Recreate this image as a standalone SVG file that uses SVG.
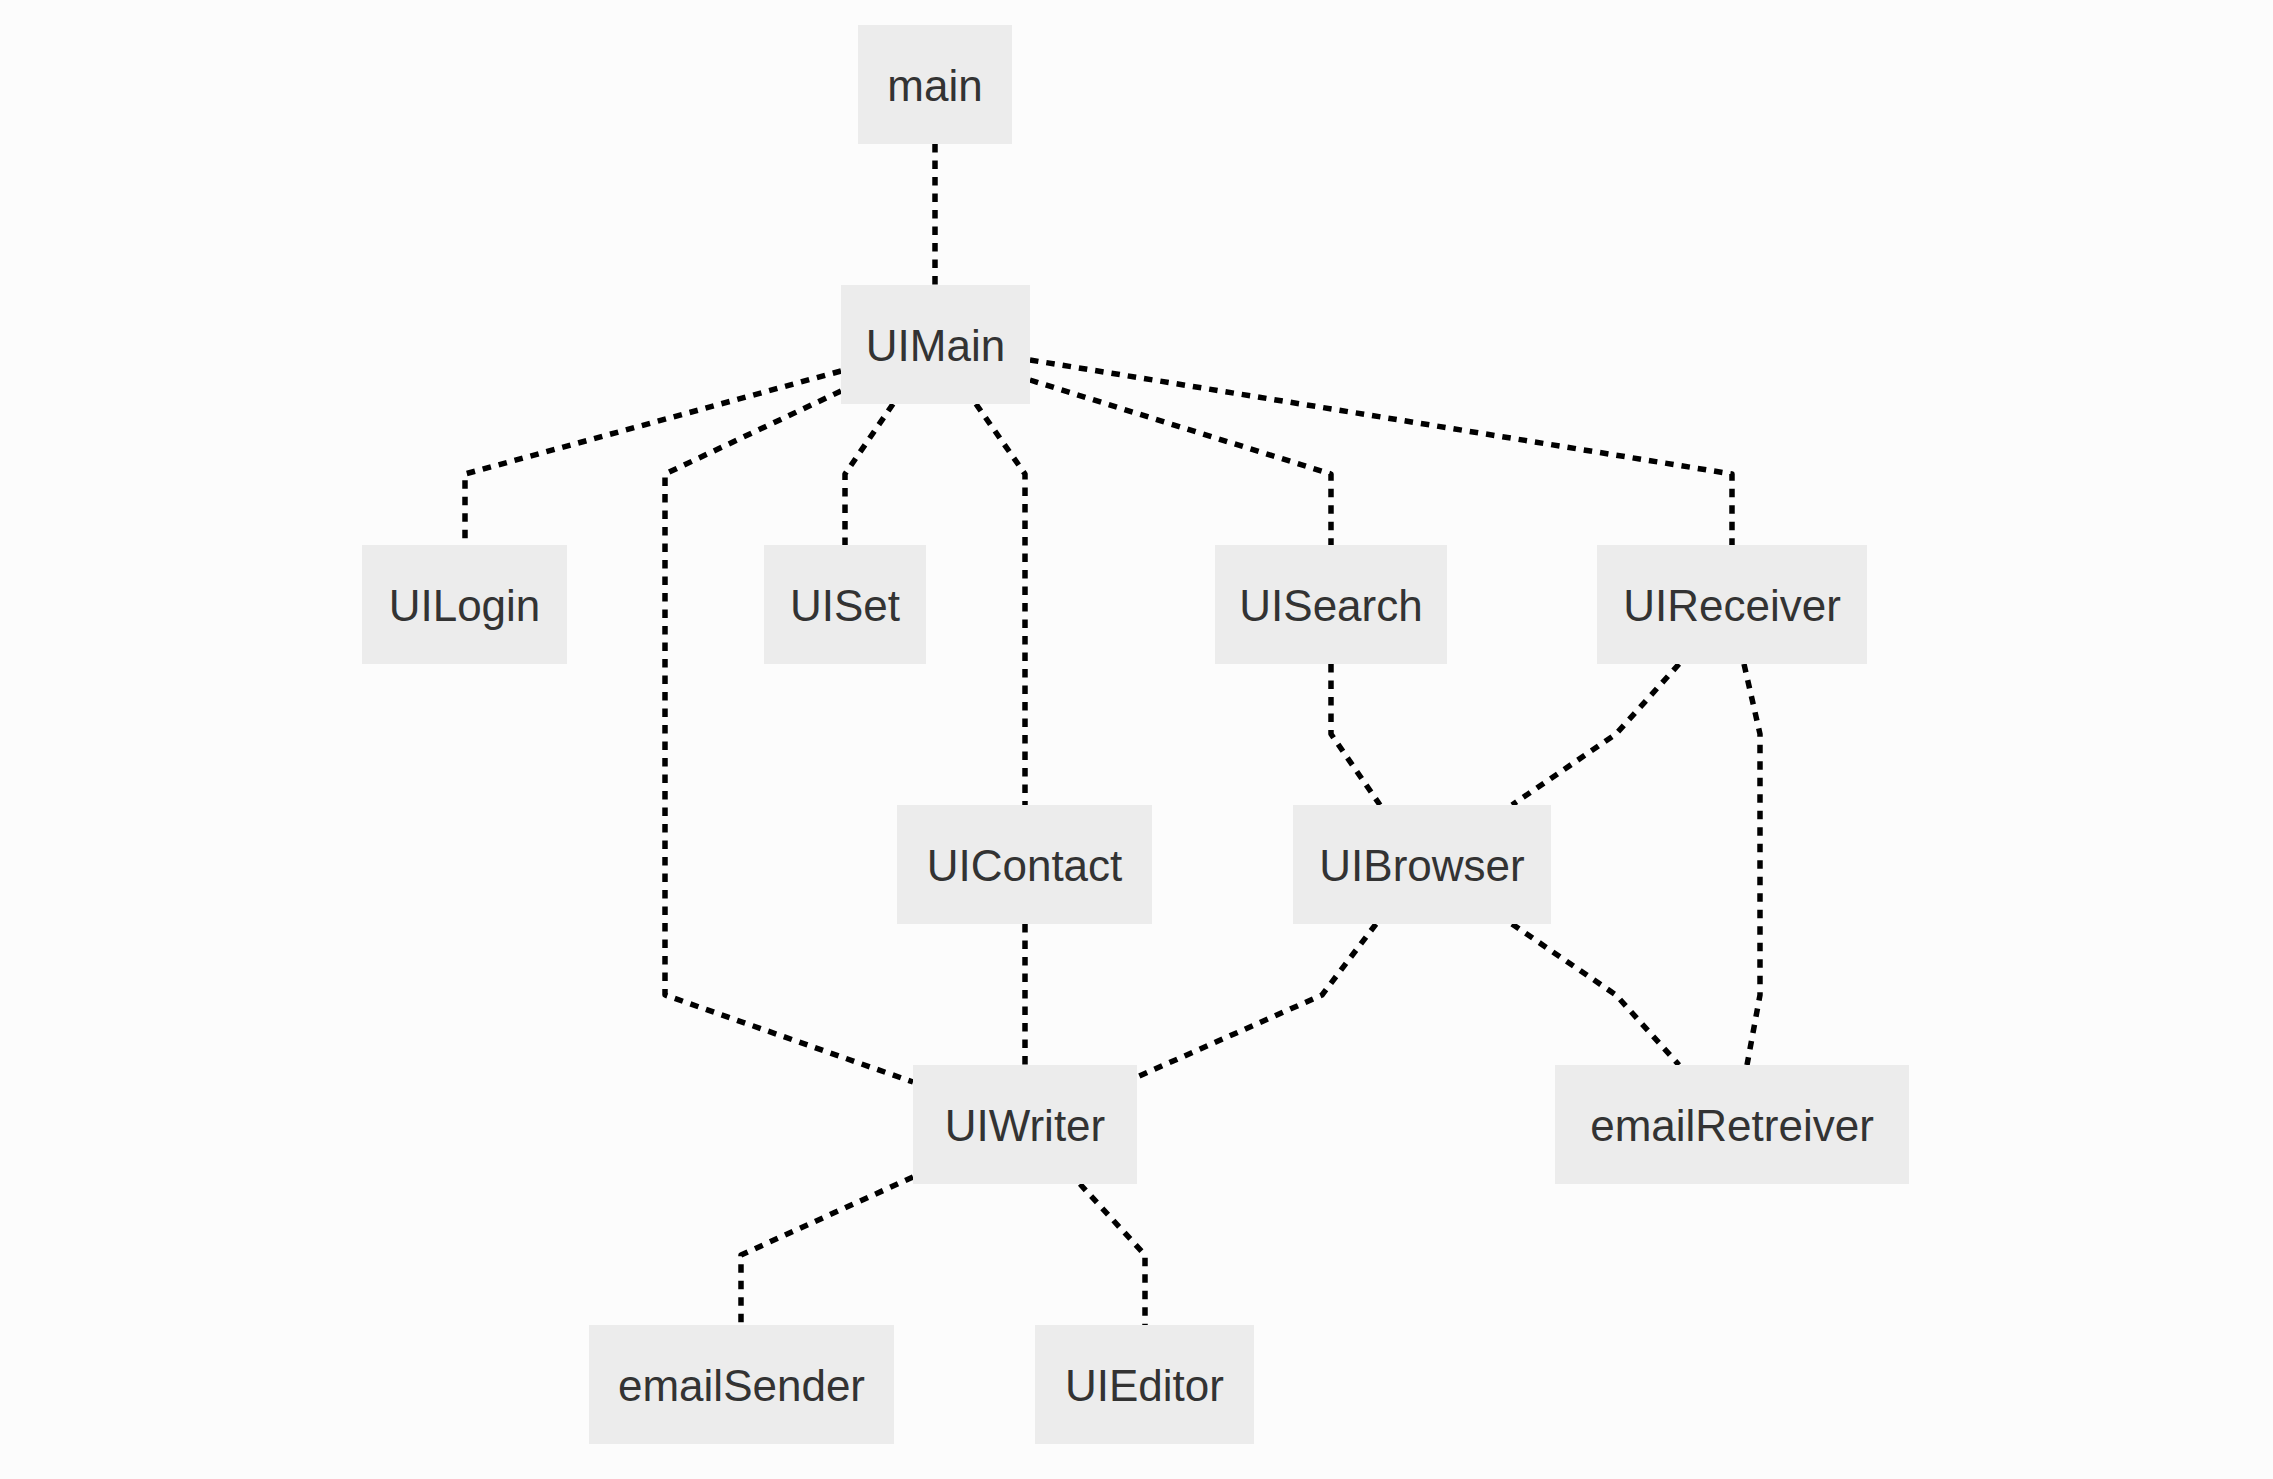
<svg xmlns="http://www.w3.org/2000/svg" width="2273" height="1479" viewBox="0 0 2273 1479">
<style>
.bg{fill:#fcfcfc}
.node rect{fill:#ececec;stroke:none}
.node text{font-family:"Liberation Sans",Arial,sans-serif;font-size:44px;fill:#333333;text-anchor:middle}
.edge{fill:none;stroke:#000000;stroke-width:5.5;stroke-dasharray:8.5 8;stroke-linejoin:round}
</style>
<rect class="bg" x="0" y="0" width="2273" height="1479"/>
<g id="connectors">
<path class="edge" d="M935 144 V285"/>
<path class="edge" d="M841 371 L465 474 V545"/>
<path class="edge" d="M841 391 L665 474 V995 L913 1082"/>
<path class="edge" d="M893 404 L845 474 V545"/>
<path class="edge" d="M976 404 L1025 474 V805"/>
<path class="edge" d="M1030 380 L1331 474 V545"/>
<path class="edge" d="M1030 360 L1732 474 V545"/>
<path class="edge" d="M1331 664 V734 L1380 805"/>
<path class="edge" d="M1679 664 L1616 734 L1512 805"/>
<path class="edge" d="M1744 664 L1760 734 V995 L1747 1065"/>
<path class="edge" d="M1376 924 L1322 995 L1137 1077"/>
<path class="edge" d="M1512 924 L1616 995 L1679 1065"/>
<path class="edge" d="M1025 924 V1065"/>
<path class="edge" d="M913 1177 L741 1255 V1325"/>
<path class="edge" d="M1080 1184 L1145 1255 V1325"/>
</g>
<g id="main" class="node"><rect x="858" y="25" width="154" height="119"/><text x="935" y="101">main</text></g>
<g id="UIMain" class="node"><rect x="841" y="285" width="189" height="119"/><text x="935.5" y="361">UIMain</text></g>
<g id="UILogin" class="node"><rect x="362" y="545" width="205" height="119"/><text x="464.5" y="621">UILogin</text></g>
<g id="UISet" class="node"><rect x="764" y="545" width="162" height="119"/><text x="845" y="621">UISet</text></g>
<g id="UISearch" class="node"><rect x="1215" y="545" width="232" height="119"/><text x="1331" y="621">UISearch</text></g>
<g id="UIReceiver" class="node"><rect x="1597" y="545" width="270" height="119"/><text x="1732" y="621">UIReceiver</text></g>
<g id="UIContact" class="node"><rect x="897" y="805" width="255" height="119"/><text x="1024.5" y="881">UIContact</text></g>
<g id="UIBrowser" class="node"><rect x="1293" y="805" width="258" height="119"/><text x="1422" y="881">UIBrowser</text></g>
<g id="UIWriter" class="node"><rect x="913" y="1065" width="224" height="119"/><text x="1025" y="1141">UIWriter</text></g>
<g id="emailRetreiver" class="node"><rect x="1555" y="1065" width="354" height="119"/><text x="1732" y="1141">emailRetreiver</text></g>
<g id="emailSender" class="node"><rect x="589" y="1325" width="305" height="119"/><text x="741.5" y="1401">emailSender</text></g>
<g id="UIEditor" class="node"><rect x="1035" y="1325" width="219" height="119"/><text x="1144.5" y="1401">UIEditor</text></g>
</svg>
